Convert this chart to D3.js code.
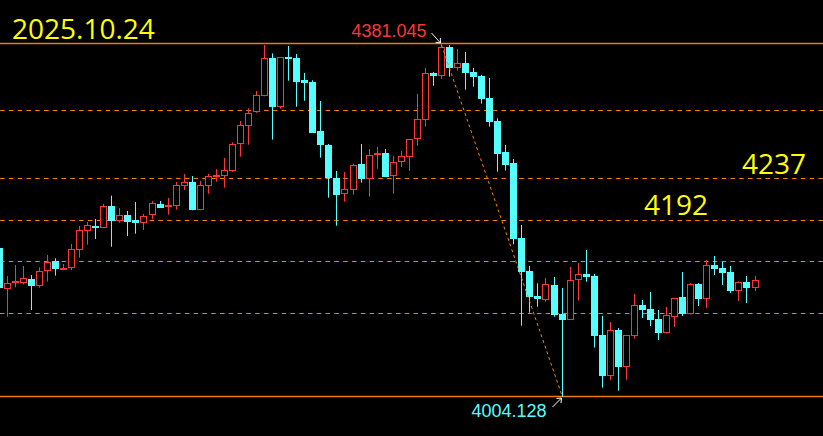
<!DOCTYPE html>
<html><head><meta charset="utf-8">
<script src="https://cdn.jsdelivr.net/npm/d3@7"></script>
<style>html,body{margin:0;padding:0;background:#000;overflow:hidden}</style>
</head><body><svg id="c" width="823" height="436"></svg>
<script>
// ---- data (prices) ----
const openP = [4163.2,4119.8,4126.2,4126.2,4130.1,4123.0,4138.4,4149.0,4140.1,4142.2,
4160.8,4181.7,4186.7,4184.9,4208.4,4192.4,4198.5,4192.8,4190.2,4198.1,
4210.2,4208.4,4208.4,4229.8,4233.7,4204.1,4229.8,4239.0,4240.4,4245.1,
4274.0,4293.8,4308.1,4325.9,4365.8,4314.1,4366.9,4365.8,4342.3,4340.5,
4288.2,4273.2,4237.7,4221.2,4225.5,4252.9,4237.2,4262.9,4264.7,4239.8,
4254.7,4260.7,4279.1,4300.2,4350.1,4347.2,4377.9,4355.7,4360.8,4351.2,
4346.9,4323.4,4298.8,4265.7,4254.0,4173.9,4138.7,4112.3,4108.0,4123.7,
4093.1,4086.7,4128.7,4135.5,4133.3,4070.3,4026.9,4075.7,4036.5,4069.6,
4102.4,4098.1,4087.4,4072.5,4089.9,4110.9,4092.8,4124.8,4109.1,4145.1,
4141.9,4137.6,4117.3,4126.9,4120.8];
const highP = [4165.4,4133.3,4145.1,4144.0,4134.4,4142.6,4155.8,4152.2,4146.1,4167.5,
4186.7,4191.0,4194.2,4210.2,4219.1,4205.9,4202.7,4212.3,4199.5,4213.4,
4213.4,4216.6,4233.7,4242.2,4240.1,4234.8,4242.2,4247.3,4259.3,4276.1,
4298.8,4312.4,4330.9,4380.0,4371.1,4367.2,4378.9,4370.4,4350.1,4342.3,
4320.2,4274.3,4245.5,4244.4,4253.2,4274.3,4268.9,4271.1,4268.9,4261.5,
4266.8,4279.5,4327.7,4355.4,4351.2,4381.045,4380.0,4375.7,4372.5,4355.4,
4348.0,4344.8,4301.7,4273.2,4258.3,4187.8,4144.0,4125.5,4131.2,4132.3,
4120.5,4142.9,4147.2,4161.1,4135.5,4090.9,4084.2,4077.8,4070.3,4114.1,
4107.7,4116.3,4097.0,4100.2,4110.2,4137.6,4125.9,4125.9,4150.4,4154.7,
4148.3,4144.0,4127.3,4133.3,4133.3];
const lowP = [4118.4,4089.9,4121.3,4124.5,4097.0,4120.8,4127.3,4133.7,4139.5,4139.7,
4152.9,4166.8,4172.8,4184.5,4164.6,4190.2,4176.0,4178.5,4182.5,4194.2,
4206.0,4198.8,4204.1,4225.2,4203.5,4203.5,4221.2,4234.0,4227.6,4244.5,
4260.7,4273.5,4307.5,4325.2,4278.9,4312.0,4341.9,4314.1,4320.5,4286.0,
4259.7,4216.9,4187.0,4212.7,4220.1,4233.0,4218.0,4247.9,4239.0,4221.2,
4249.7,4245.5,4272.4,4292.8,4336.5,4343.7,4346.1,4352.5,4332.3,4335.5,
4317.3,4292.8,4244.7,4246.0,4167.2,4080.3,4094.2,4100.6,4105.9,4089.9,
4004.128,4086.2,4107.0,4127.3,4056.8,4014.1,4022.3,4010.9,4022.6,4066.4,
4088.5,4079.9,4065.0,4072.0,4078.9,4090.6,4092.3,4101.3,4099.2,4134.4,
4123.7,4115.2,4106.6,4104.5,4117.3];
const closeP = [4120.5,4125.5,4127.7,4131.2,4123.0,4138.7,4148.3,4141.1,4141.6,4161.8,
4182.5,4187.5,4185.7,4208.1,4192.4,4198.1,4191.3,4190.2,4197.4,4211.3,
4206.3,4209.5,4230.2,4233.7,4203.8,4230.2,4240.1,4240.9,4246.2,4274.0,
4294.2,4307.1,4326.3,4365.8,4314.1,4366.9,4365.4,4340.8,4339.7,4286.3,
4273.5,4237.7,4220.1,4226.2,4251.5,4237.2,4262.2,4264.7,4239.4,4254.7,
4261.1,4279.3,4300.7,4349.8,4347.2,4377.9,4355.7,4360.8,4350.1,4346.1,
4322.3,4298.1,4263.9,4252.2,4173.2,4137.9,4111.2,4109.1,4124.5,4092.0,
4086.7,4129.1,4135.5,4132.6,4069.6,4026.9,4075.7,4036.5,4070.0,4102.4,
4097.0,4086.4,4072.5,4091.7,4109.8,4092.8,4124.8,4108.8,4145.1,4140.8,
4136.5,4117.3,4126.9,4120.5,4129.1];
const levelValues = [4310.5, 4237.5, 4193, 4149.3, 4093.8];
const levelTexts = ["4237", "4192"];
const titleText = "2025.10.24";
const maxValue = 4381.045, minValue = 4004.128;
const maxIndex = 55, minIndex = 70;

// ---- drawing ----
const W = 823, H = 436;
const svg = d3.select("#c");
svg.append("rect").attr("width", W).attr("height", H).attr("fill", "#000");
const n = openP.length;
const x = d3.scaleLinear().domain([0, n - 1]).range([-0.74, 755.02]);
const y = d3.scaleLinear().domain([minValue, maxValue]).range([397, 44]);
const RED = "#ff3535", CYAN = "#55ffff", ORANGE = "#ff8000";

// dashed levels
levelValues.forEach(v => {
  const yy = Math.round(y(v)) + 0.5;
  svg.append("line").attr("x1", 0).attr("x2", W).attr("y1", yy).attr("y2", yy)
    .attr("stroke", ORANGE).attr("stroke-width", 1).attr("stroke-dasharray", "4.5,4.3");
});
// top & bottom solid lines
[maxValue, minValue].forEach(v => {
  const yy = Math.round(y(v)) - 0.5;
  svg.append("line").attr("x1", 0).attr("x2", W).attr("y1", yy).attr("y2", yy)
    .attr("stroke", "#f07a10").attr("stroke-width", 1.3);
});

// candles
const g = svg.append("g");
for (let i = 0; i < n; i++) {
  const o = openP[i], c = closeP[i], h = highP[i], l = lowP[i];
  const cx = Math.floor(x(i));
  const up = c > o;
  const top = Math.round(y(Math.max(o, c))), bot = Math.round(y(Math.min(o, c)));
  const yh = y(h), yl = y(l);
  if (up) {
    g.append("line").attr("x1", cx + 0.5).attr("x2", cx + 0.5).attr("y1", yh).attr("y2", top)
      .attr("stroke", RED).attr("stroke-width", 1);
    g.append("line").attr("x1", cx + 0.5).attr("x2", cx + 0.5).attr("y1", bot).attr("y2", yl)
      .attr("stroke", RED).attr("stroke-width", 1);
    if (bot - top <= 2) {
      g.append("rect").attr("x", cx - 3).attr("y", top).attr("width", 7).attr("height", Math.max(2, bot - top))
        .attr("fill", RED);
    } else {
      g.append("rect").attr("x", cx - 2.5).attr("y", top + 0.5).attr("width", 6).attr("height", bot - top - 1)
        .attr("fill", "#000").attr("stroke", RED).attr("stroke-width", 1);
    }
  } else {
    g.append("line").attr("x1", cx + 0.5).attr("x2", cx + 0.5).attr("y1", yh).attr("y2", yl)
      .attr("stroke", CYAN).attr("stroke-width", 1);
    g.append("rect").attr("x", cx - 3).attr("y", top).attr("width", 7).attr("height", Math.max(2, bot - top))
      .attr("fill", CYAN);
  }
}

// diagonal high-low line
const hx = Math.floor(x(maxIndex)) + 0.5, hy = y(maxValue);
const lx = Math.floor(x(minIndex)) + 0.5, ly = y(minValue);
svg.append("line").attr("x1", hx).attr("y1", hy + 1).attr("x2", lx).attr("y2", ly)
  .attr("stroke", ORANGE).attr("stroke-width", 1).attr("stroke-dasharray", "3,3");

// arrows
function arrow(x1, y1, x2, y2) {
  svg.append("line").attr("x1", x1).attr("y1", y1).attr("x2", x2).attr("y2", y2)
    .attr("stroke", "#fff").attr("stroke-width", 1);
  const ang = Math.atan2(y2 - y1, x2 - x1), L = 5;
  [Math.PI * 0.78, -Math.PI * 0.78].forEach(a => {
    svg.append("line").attr("x1", x2).attr("y1", y2)
      .attr("x2", x2 + L * Math.cos(ang + a)).attr("y2", y2 + L * Math.sin(ang + a))
      .attr("stroke", "#fff").attr("stroke-width", 1);
  });
}
arrow(hx - 10, hy - 11, hx - 1, hy - 1);
arrow(lx - 10, ly + 10, lx - 1, ly + 1);

// texts
svg.append("text").attr("x", hx - 15).attr("y", hy - 7).attr("text-anchor", "end")
  .attr("font-family", "Liberation Sans, Arial, sans-serif").attr("font-size", 18)
  .attr("fill", RED).text(maxValue.toFixed(3));
svg.append("text").attr("x", lx - 16).attr("y", ly + 20).attr("text-anchor", "end")
  .attr("font-family", "Liberation Sans, Arial, sans-serif").attr("font-size", 18)
  .attr("fill", CYAN).text(minValue.toFixed(3));

const bigFont = "Open Sans, Noto Sans, sans-serif";
svg.append("text").attr("x", 12).attr("y", 38.5).attr("font-family", bigFont).attr("font-size", 28)
  .attr("fill", "#ffff00").text(titleText);
svg.append("text").attr("x", 742).attr("y", 173.5).attr("font-family", bigFont).attr("font-size", 28)
  .attr("fill", "#ffff00").text(levelTexts[0]);
svg.append("text").attr("x", 644).attr("y", 215).attr("font-family", bigFont).attr("font-size", 28)
  .attr("fill", "#ffff00").text(levelTexts[1]);
</script></body></html>
